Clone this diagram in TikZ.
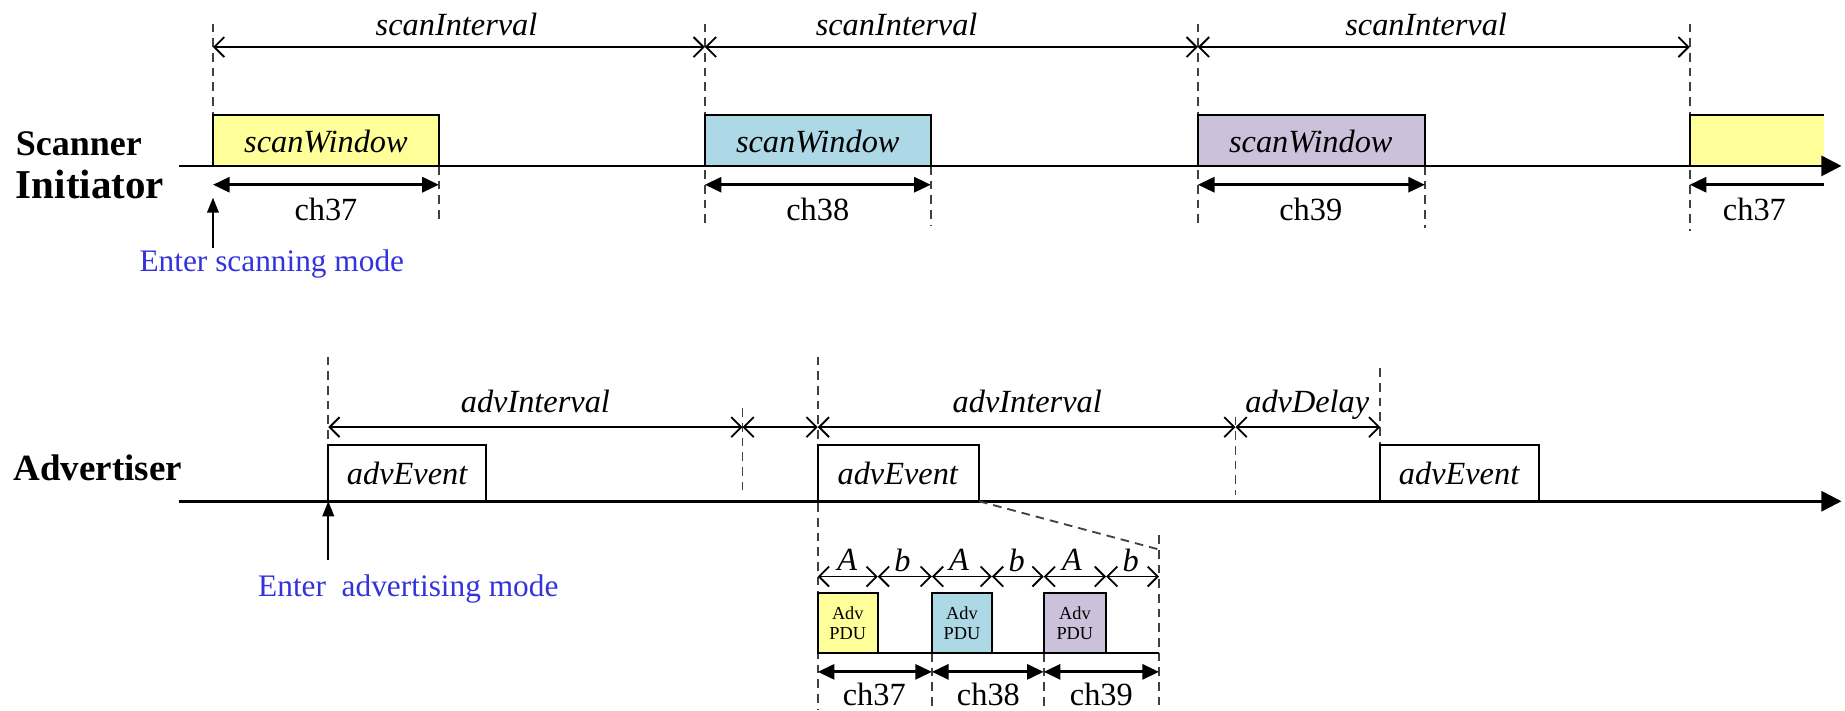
\documentclass[tikz,border=0pt]{standalone}
\usepackage{fontspec}
\setmainfont{Liberation Serif}
\usetikzlibrary{arrows.meta}
\definecolor{chyellow}{RGB}{255,255,153}
\definecolor{chblue}{RGB}{173,216,230}
\definecolor{chpurple}{RGB}{204,193,218}
\definecolor{modeblue}{RGB}{51,51,221}

\begin{document}
\begin{tikzpicture}[x=0.353pt, y=-0.353pt,
    axis/.style={line width=0.8pt, -{Triangle[length=6pt,width=6pt]}},
    guide/.style={dash pattern=on 2.6pt off 1.8pt, line width=0.55pt, black!75},
    span/.style={line width=0.55pt, {Straight Barb[length=3pt,width=6pt]}-{Straight Barb[length=3pt,width=6pt]}},
    chspan/.style={line width=0.9pt, {Triangle[length=5pt,width=4.5pt]}-{Triangle[length=5pt,width=4.5pt]}},
    win/.style={draw=black, line width=0.6pt},
    lbl/.style={font=\fontsize{9.7}{11}\selectfont\itshape, inner sep=0pt},
    chlbl/.style={font=\fontsize{9.7}{11}\selectfont, inner sep=0pt},
    rowname/.style={inner sep=0pt, anchor=base west},
    mode/.style={font=\fontsize{9.4}{11}\selectfont, text=modeblue, inner sep=0pt},
    entry/.style={line width=0.5pt, -{Triangle[length=4.5pt,width=3.5pt]}},
    pdu/.style={font=\fontsize{5.5}{6}\selectfont, align=center, inner sep=0pt}]
    \useasboundingbox (0,0) rectangle (1568,604);

    % scanner / initiator
    \draw[guide] (181,20) -- (181,141);
    \draw[guide] (599,20) -- (599,192);
    \draw[guide] (1018,20) -- (1018,194);
    \draw[guide] (1436,20) -- (1436,196);
    \draw[guide] (373,141) -- (373,190);
    \draw[guide] (791,141) -- (791,192);
    \draw[guide] (1211,141) -- (1211,194);
    \filldraw[win, fill=chyellow] (181,98) rectangle (373,141);
    \filldraw[win, fill=chblue] (599,98) rectangle (791,141);
    \filldraw[win, fill=chpurple] (1018,98) rectangle (1211,141);
    \fill[chyellow] (1436,98) rectangle (1550,141);
    \draw[line width=0.6pt] (1436,141) -- (1436,98) -- (1550,98);
    \draw[axis] (152,141) -- (1565,141);
    \draw[span] (181,40) -- (599,40);
    \draw[span] (599,40) -- (1018,40);
    \draw[span] (1018,40) -- (1436,40);
    \draw[chspan] (181,157) -- (373,157);
    \draw[chspan] (599,157) -- (791,157);
    \draw[chspan] (1018,157) -- (1211,157);
    \draw[line width=0.9pt, {Triangle[length=5pt,width=4.5pt]}-] (1436,157) -- (1550,157);
    \node[lbl] (si1) at (388,21) {scanInterval};
    \node[lbl] (si2) at (762,21) {scanInterval};
    \node[lbl] (si3) at (1212,21) {scanInterval};
    \node[lbl] (sw1) at (277,120) {scanWindow};
    \node[lbl] (sw2) at (695,120) {scanWindow};
    \node[lbl] (sw3) at (1114,120) {scanWindow};
    \node[chlbl] (sc1) at (277,178) {ch37};
    \node[chlbl] (sc2) at (695,178) {ch38};
    \node[chlbl] (sc3) at (1114,178) {ch39};
    \node[chlbl] (sc4) at (1491,178) {ch37};
    \node[rowname, font=\fontsize{10.8}{12}\selectfont\bfseries] (scanner) at (13,132) {Scanner};
    \node[rowname, font=\fontsize{12.3}{14}\selectfont\bfseries] (initiator) at (13,169) {Initiator};
    \coordinate (scanstart) at (181,168);
    \node[mode] (scanmode) at (231,224) {Enter scanning mode};
    \draw[entry] (181,211) -- (scanstart);

    % advertiser
    \draw[guide] (279,303) -- (279,378);
    \draw[guide] (631,347) -- (631,421);
    \draw[guide] (695,303) -- (695,603);
    \draw[guide] (1050,354) -- (1050,421);
    \draw[guide] (1173,313) -- (1173,378);
    \draw[guide] (792,555) -- (792,603);
    \draw[guide] (887,555) -- (887,603);
    \draw[guide] (985,455) -- (985,603);
    \filldraw[win, fill=white] (279,378) rectangle (413,426);
    \filldraw[win, fill=white] (695,378) rectangle (832,426);
    \filldraw[win, fill=white] (1173,378) rectangle (1308,426);
    \draw[axis] (152,426) -- (1565,426);
    \draw[span] (279,363) -- (631,363);
    \draw[span] (631,363) -- (695,363);
    \draw[span] (695,363) -- (1050,363);
    \draw[span] (1050,363) -- (1173,363);
    \node[lbl] (ai1) at (455,341) {advInterval};
    \node[lbl] (ai2) at (873,341) {advInterval};
    \node[lbl] (ad) at (1111,344) {advDelay};
    \node[lbl] (ae1) at (346,402) {advEvent};
    \node[lbl] (ae2) at (763,402) {advEvent};
    \node[lbl] (ae3) at (1240,402) {advEvent};
    \node[rowname, font=\fontsize{11.1}{13}\selectfont\bfseries] (advertiser) at (11,408) {Advertiser};
    \coordinate (advstart) at (279,426);
    \node[mode] (advmode) at (347,501) {Enter~~advertising mode};
    \draw[entry] (279,476) -- (advstart);
    \draw[guide] (832,426) -- (985,467);

    % channels inside one advEvent
    \filldraw[win, fill=chyellow] (695,504) rectangle (746,555);
    \filldraw[win, fill=chblue] (792,504) rectangle (843,555);
    \filldraw[win, fill=chpurple] (887,504) rectangle (940,555);
    \draw[line width=0.6pt] (695,555) -- (985,555);
    \node[pdu] (pdu1) at (720.5,529.5) {Adv\\PDU};
    \node[pdu] (pdu2) at (817.5,529.5) {Adv\\PDU};
    \node[pdu] (pdu3) at (913.5,529.5) {Adv\\PDU};
    \draw[span] (695,490) -- (746,490);
    \draw[span] (746,490) -- (792,490);
    \draw[span] (792,490) -- (843,490);
    \draw[span] (843,490) -- (887,490);
    \draw[span] (887,490) -- (940,490);
    \draw[span] (940,490) -- (985,490);
    \node[lbl] (ta1) at (720,476) {A};
    \node[lbl] (tb1) at (767,476) {b};
    \node[lbl] (ta2) at (815,476) {A};
    \node[lbl] (tb2) at (864,476) {b};
    \node[lbl] (ta3) at (911,476) {A};
    \node[lbl] (tb3) at (961,476) {b};
    \draw[chspan] (695,571) -- (792,571);
    \draw[chspan] (792,571) -- (887,571);
    \draw[chspan] (887,571) -- (985,571);
    \node[chlbl] (ac1) at (743,590) {ch37};
    \node[chlbl] (ac2) at (840,590) {ch38};
    \node[chlbl] (ac3) at (936,590) {ch39};
\end{tikzpicture}
\end{document}
